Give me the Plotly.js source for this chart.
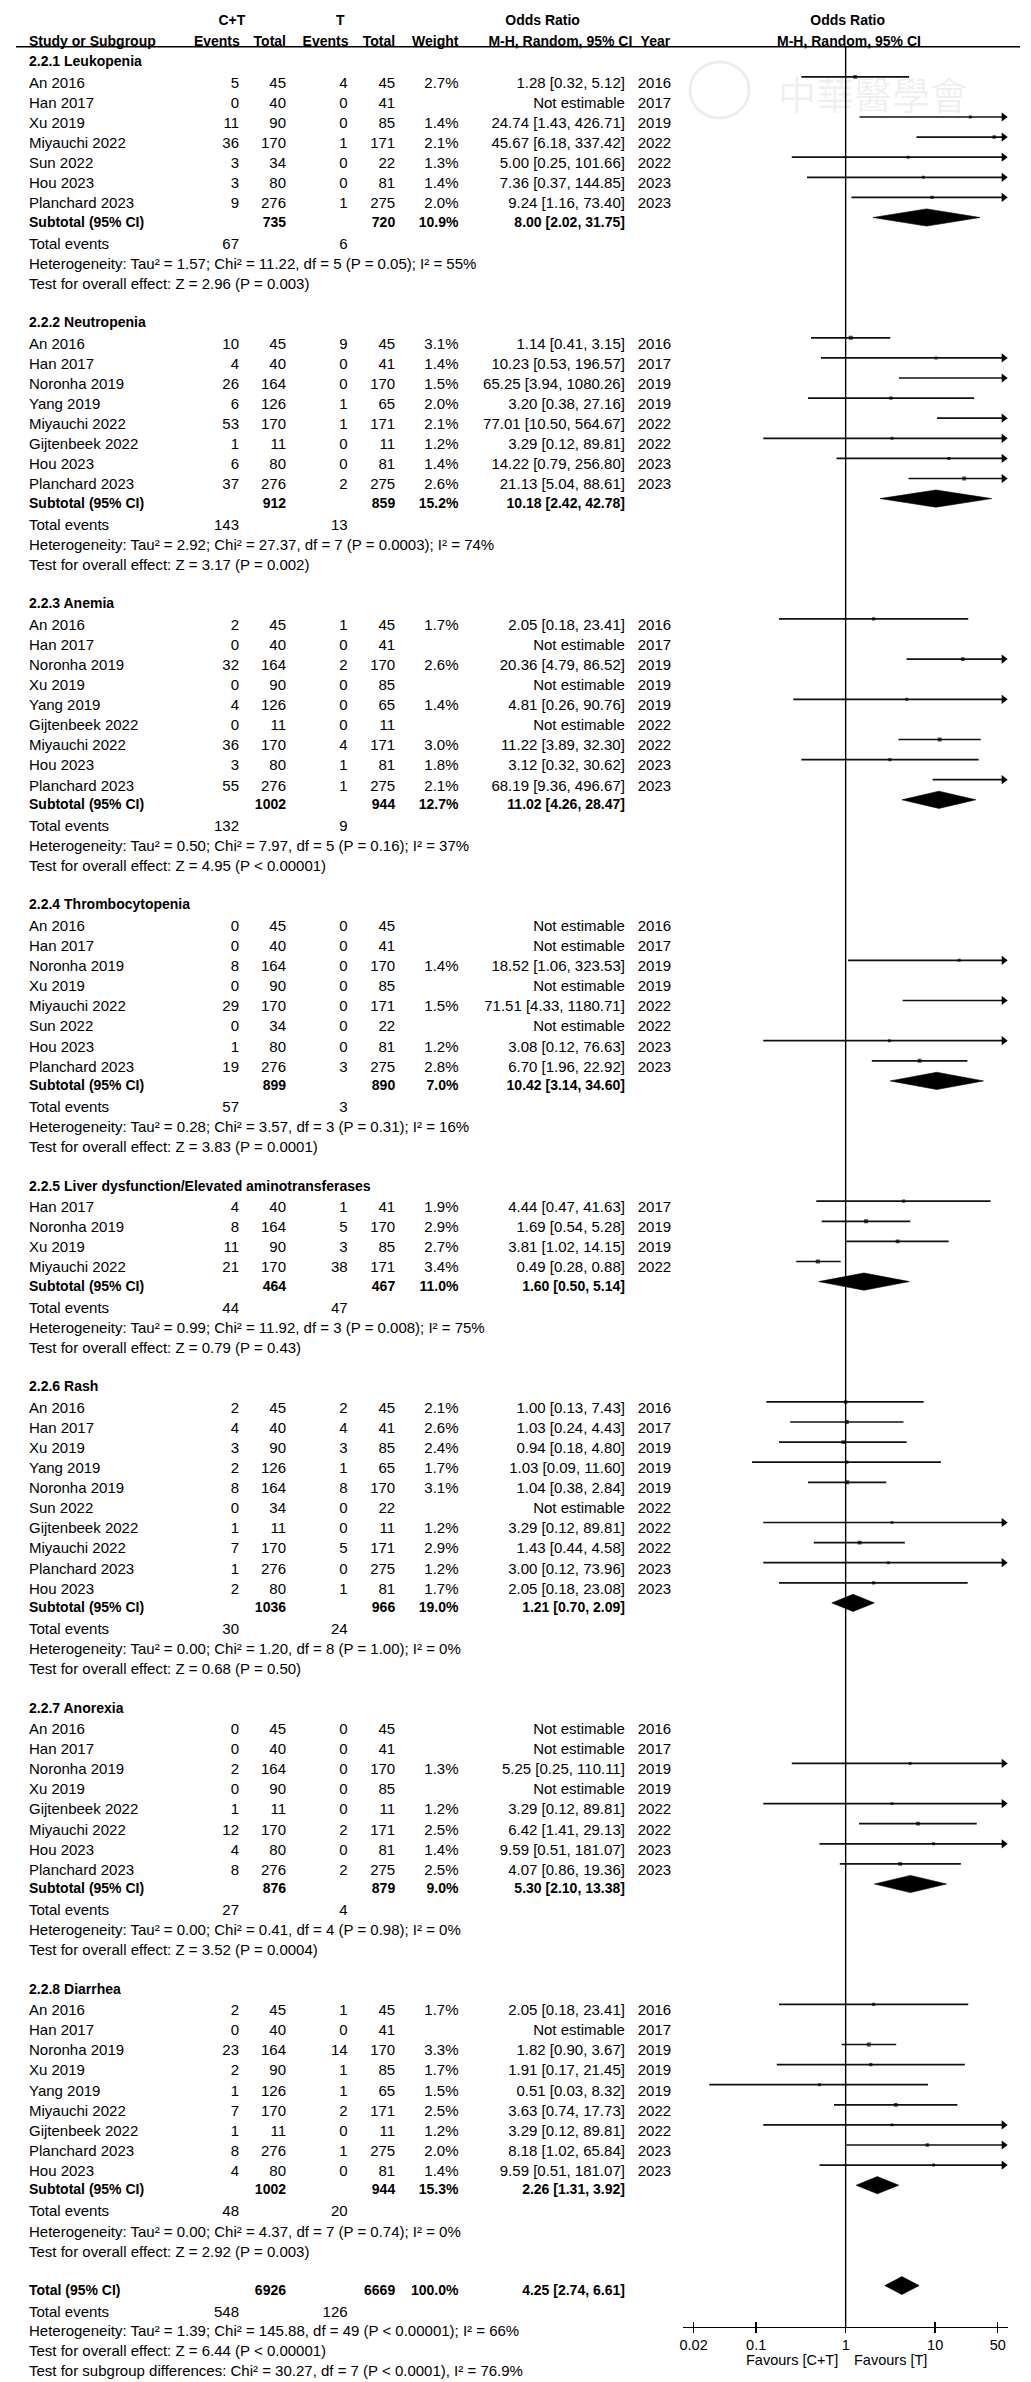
<!DOCTYPE html>
<html>
<head>
<meta charset="utf-8">
<script src="https://cdn.plot.ly/plotly-3.0.1.min.js"></script>
<style>html,body{margin:0;padding:0;background:#fff;}#chart{width:1031px;height:2382px;}</style>
</head>
<body>
<div id="chart"></div>
<script>
// ================= DATA =================
const subgroupTitles = ["2.2.1 Leukopenia","2.2.2 Neutropenia","2.2.3 Anemia","2.2.4 Thrombocytopenia",
  "2.2.5 Liver dysfunction/Elevated aminotransferases","2.2.6 Rash","2.2.7 Anorexia","2.2.8 Diarrhea"];
const groupSizes = [7, 8, 9, 8, 4, 10, 8, 9];

const studyNames = [
  "An 2016","Han 2017","Xu 2019","Miyauchi 2022","Sun 2022","Hou 2023","Planchard 2023",
  "An 2016","Han 2017","Noronha 2019","Yang 2019","Miyauchi 2022","Gijtenbeek 2022","Hou 2023","Planchard 2023",
  "An 2016","Han 2017","Noronha 2019","Xu 2019","Yang 2019","Gijtenbeek 2022","Miyauchi 2022","Hou 2023","Planchard 2023",
  "An 2016","Han 2017","Noronha 2019","Xu 2019","Miyauchi 2022","Sun 2022","Hou 2023","Planchard 2023",
  "Han 2017","Noronha 2019","Xu 2019","Miyauchi 2022",
  "An 2016","Han 2017","Xu 2019","Yang 2019","Noronha 2019","Sun 2022","Gijtenbeek 2022","Miyauchi 2022","Planchard 2023","Hou 2023",
  "An 2016","Han 2017","Noronha 2019","Xu 2019","Gijtenbeek 2022","Miyauchi 2022","Hou 2023","Planchard 2023",
  "An 2016","Han 2017","Noronha 2019","Xu 2019","Yang 2019","Miyauchi 2022","Gijtenbeek 2022","Planchard 2023","Hou 2023"
];
const ctEvents = [
  5,0,11,36,3,3,9,
  10,4,26,6,53,1,6,37,
  2,0,32,0,4,0,36,3,55,
  0,0,8,0,29,0,1,19,
  4,8,11,21,
  2,4,3,2,8,0,1,7,1,2,
  0,0,2,0,1,12,4,8,
  2,0,23,2,1,7,1,8,4
];
const ctTotals = [
  45,40,90,170,34,80,276,
  45,40,164,126,170,11,80,276,
  45,40,164,90,126,11,170,80,276,
  45,40,164,90,170,34,80,276,
  40,164,90,170,
  45,40,90,126,164,34,11,170,276,80,
  45,40,164,90,11,170,80,276,
  45,40,164,90,126,170,11,276,80
];
const tEvents = [
  4,0,0,1,0,0,1,
  9,0,0,1,1,0,0,2,
  1,0,2,0,0,0,4,1,1,
  0,0,0,0,0,0,0,3,
  1,5,3,38,
  2,4,3,1,8,0,0,5,0,1,
  0,0,0,0,0,2,0,2,
  1,0,14,1,1,2,0,1,0
];
const tTotals = [
  45,41,85,171,22,81,275,
  45,41,170,65,171,11,81,275,
  45,41,170,85,65,11,171,81,275,
  45,41,170,85,171,22,81,275,
  41,170,85,171,
  45,41,85,65,170,22,11,171,275,81,
  45,41,170,85,11,171,81,275,
  45,41,170,85,65,171,11,275,81
];
const weights = [
  2.7,null,1.4,2.1,1.3,1.4,2.0,
  3.1,1.4,1.5,2.0,2.1,1.2,1.4,2.6,
  1.7,null,2.6,null,1.4,null,3.0,1.8,2.1,
  null,null,1.4,null,1.5,null,1.2,2.8,
  1.9,2.9,2.7,3.4,
  2.1,2.6,2.4,1.7,3.1,null,1.2,2.9,1.2,1.7,
  null,null,1.3,null,1.2,2.5,1.4,2.5,
  1.7,null,3.3,1.7,1.5,2.5,1.2,2.0,1.4
];
const orEst = [
  1.28,null,24.74,45.67,5.00,7.36,9.24,
  1.14,10.23,65.25,3.20,77.01,3.29,14.22,21.13,
  2.05,null,20.36,null,4.81,null,11.22,3.12,68.19,
  null,null,18.52,null,71.51,null,3.08,6.70,
  4.44,1.69,3.81,0.49,
  1.00,1.03,0.94,1.03,1.04,null,3.29,1.43,3.00,2.05,
  null,null,5.25,null,3.29,6.42,9.59,4.07,
  2.05,null,1.82,1.91,0.51,3.63,3.29,8.18,9.59
];
const orLow = [
  0.32,null,1.43,6.18,0.25,0.37,1.16,
  0.41,0.53,3.94,0.38,10.50,0.12,0.79,5.04,
  0.18,null,4.79,null,0.26,null,3.89,0.32,9.36,
  null,null,1.06,null,4.33,null,0.12,1.96,
  0.47,0.54,1.02,0.28,
  0.13,0.24,0.18,0.09,0.38,null,0.12,0.44,0.12,0.18,
  null,null,0.25,null,0.12,1.41,0.51,0.86,
  0.18,null,0.90,0.17,0.03,0.74,0.12,1.02,0.51
];
const orHigh = [
  5.12,null,426.71,337.42,101.66,144.85,73.40,
  3.15,196.57,1080.26,27.16,564.67,89.81,256.80,88.61,
  23.41,null,86.52,null,90.76,null,32.30,30.62,496.67,
  null,null,323.53,null,1180.71,null,76.63,22.92,
  41.63,5.28,14.15,0.88,
  7.43,4.43,4.80,11.60,2.84,null,89.81,4.58,73.96,23.08,
  null,null,110.11,null,89.81,29.13,181.07,19.36,
  23.41,null,3.67,21.45,8.32,17.73,89.81,65.84,181.07
];
const studyYears = [
  2016,2017,2019,2022,2022,2023,2023,
  2016,2017,2019,2019,2022,2022,2023,2023,
  2016,2017,2019,2019,2019,2022,2022,2023,2023,
  2016,2017,2019,2019,2022,2022,2023,2023,
  2017,2019,2019,2022,
  2016,2017,2019,2019,2019,2022,2022,2022,2023,2023,
  2016,2017,2019,2019,2022,2022,2023,2023,
  2016,2017,2019,2019,2019,2022,2022,2023,2023
];

const subCtTotals = [735, 912, 1002, 899, 464, 1036, 876, 1002];
const subTTotals  = [720, 859, 944, 890, 467, 966, 879, 944];
const subWeights  = [10.9, 15.2, 12.7, 7.0, 11.0, 19.0, 9.0, 15.3];
const subOr       = [8.00, 10.18, 11.02, 10.42, 1.60, 1.21, 5.30, 2.26];
const subLow      = [2.02, 2.42, 4.26, 3.14, 0.50, 0.70, 2.10, 1.31];
const subHigh     = [31.75, 42.78, 28.47, 34.60, 5.14, 2.09, 13.38, 3.92];
const subCtEvents = [67, 143, 132, 57, 44, 30, 27, 48];
const subTEvents  = [6, 13, 9, 3, 47, 24, 4, 20];
const subHeterogeneity = [
  "Heterogeneity: Tau² = 1.57; Chi² = 11.22, df = 5 (P = 0.05); I² = 55%",
  "Heterogeneity: Tau² = 2.92; Chi² = 27.37, df = 7 (P = 0.0003); I² = 74%",
  "Heterogeneity: Tau² = 0.50; Chi² = 7.97, df = 5 (P = 0.16); I² = 37%",
  "Heterogeneity: Tau² = 0.28; Chi² = 3.57, df = 3 (P = 0.31); I² = 16%",
  "Heterogeneity: Tau² = 0.99; Chi² = 11.92, df = 3 (P = 0.008); I² = 75%",
  "Heterogeneity: Tau² = 0.00; Chi² = 1.20, df = 8 (P = 1.00); I² = 0%",
  "Heterogeneity: Tau² = 0.00; Chi² = 0.41, df = 4 (P = 0.98); I² = 0%",
  "Heterogeneity: Tau² = 0.00; Chi² = 4.37, df = 7 (P = 0.74); I² = 0%"
];
const subOverallTests = [
  "Test for overall effect: Z = 2.96 (P = 0.003)",
  "Test for overall effect: Z = 3.17 (P = 0.002)",
  "Test for overall effect: Z = 4.95 (P < 0.00001)",
  "Test for overall effect: Z = 3.83 (P = 0.0001)",
  "Test for overall effect: Z = 0.79 (P = 0.43)",
  "Test for overall effect: Z = 0.68 (P = 0.50)",
  "Test for overall effect: Z = 3.52 (P = 0.0004)",
  "Test for overall effect: Z = 2.92 (P = 0.003)"
];

const totalTotals  = [6926, 6669];
const totalEvents  = [548, 126];
const totalWeight  = [100.0];
const totalOr      = [4.25, 2.74, 6.61];
const totalNotes = [
  "Heterogeneity: Tau² = 1.39; Chi² = 145.88, df = 49 (P < 0.00001); I² = 66%",
  "Test for overall effect: Z = 6.44 (P < 0.00001)",
  "Test for subgroup differences: Chi² = 30.27, df = 7 (P < 0.0001), I² = 76.9%"
];

const axisTickVals = [0.02, 0.1, 1, 10, 50];
const axisTickText = ["0.02", "0.1", "1", "10", "50"];
const favourLabels = ["Favours [C+T]", "Favours [T]"];

// ================= LAYOUT CONSTANTS =================
const W = 1031, H = 2382;
const FONT = "Liberation Sans, Arial, Helvetica, sans-serif";
const FS = 15, FSB = 14;
const COL = { name: 29, ctE: 239, ctT: 286, tE: 347.6, tT: 395.2, w: 458.5, or: 624.9, yr: 671.1 };
const AX_L = 683, AX_R = 1007.7, AX_Y = 2326.7, HEAD_LINE_Y = 46.7;
const LOGMIN = -1.8175, LOGMAX = 1.8105;
const PXDEC = (AX_R - AX_L) / (LOGMAX - LOGMIN);
const ARROW_OFF = 4 / PXDEC;
const xMin = Math.pow(10, LOGMIN), xMax = Math.pow(10, LOGMAX);
const PITCH = 20.1;
const LINE_OFF = 5.5, DIA_OFF = 4, DIA_H = 8.6;

const fmt2 = v => v.toFixed(2);
const fmtOR = (e, l, h) => fmt2(e) + " [" + fmt2(l) + ", " + fmt2(h) + "]";

// text items
const items = [];
function T(x, y, t, a, b) { items.push({ x: x, y: y + 1.6, t: String(t), a: a, b: !!b }); }

// forest marks
const ciX = [], ciY = [], sqX = [], sqY = [], sqS = [], arRX = [], arRY = [], arLX = [], arLY = [];
const diamonds = [];
function addCI(est, lo, hi, w, yy) {
  let a = lo, b = hi;
  if (lo < xMin) { a = Math.pow(10, LOGMIN + ARROW_OFF); arLX.push(a); arLY.push(yy); }
  if (hi > xMax) { b = Math.pow(10, LOGMAX - ARROW_OFF); arRX.push(b); arRY.push(yy); }
  ciX.push(a, b, null); ciY.push(yy, yy, null);
  sqX.push(est); sqY.push(yy); sqS.push(2.2 + w * 0.6);
}
function addDiamond(est, lo, hi, yc, hh) {
  diamonds.push({ x: [lo, est, hi, est, lo], y: [yc, yc - hh, yc, yc + hh, yc] });
}

// headers
T(231.9, 20, "C+T", "c", true);
T(340.2, 20, "T", "c", true);
T(542.6, 20, "Odds Ratio", "c", true);
T(847.7, 20, "Odds Ratio", "c", true);
T(COL.name, 40.7, "Study or Subgroup", "l", true);
T(239.8, 40.7, "Events", "r", true);
T(286, 40.7, "Total", "r", true);
T(348.5, 40.7, "Events", "r", true);
T(395.2, 40.7, "Total", "r", true);
T(458.5, 40.7, "Weight", "r", true);
T(632.3, 40.7, "M-H, Random, 95% CI", "r", true);
T(670.2, 40.7, "Year", "r", true);
T(849, 40.7, "M-H, Random, 95% CI", "c", true);

// body
let y = 61, k = 0;
for (let g = 0; g < subgroupTitles.length; g++) {
  T(COL.name, y, subgroupTitles[g], "l", true);
  let sy = y;
  for (let i = 0; i < groupSizes[g]; i++, k++) {
    sy = y + 21.3 + PITCH * i;
    T(COL.name, sy, studyNames[k], "l");
    T(COL.ctE, sy, ctEvents[k], "r");
    T(COL.ctT, sy, ctTotals[k], "r");
    T(COL.tE, sy, tEvents[k], "r");
    T(COL.tT, sy, tTotals[k], "r");
    if (weights[k] !== null) T(COL.w, sy, weights[k].toFixed(1) + "%", "r");
    if (orEst[k] === null) T(COL.or, sy, "Not estimable", "r");
    else {
      T(COL.or, sy, fmtOR(orEst[k], orLow[k], orHigh[k]), "r");
      addCI(orEst[k], orLow[k], orHigh[k], weights[k], sy - LINE_OFF);
    }
    T(COL.yr, sy, studyYears[k], "r");
  }
  const st = sy + 18.6;
  T(COL.name, st, "Subtotal (95% CI)", "l", true);
  T(COL.ctT, st, subCtTotals[g], "r", true);
  T(COL.tT, st, subTTotals[g], "r", true);
  T(COL.w, st, subWeights[g].toFixed(1) + "%", "r", true);
  T(COL.or, st, fmtOR(subOr[g], subLow[g], subHigh[g]), "r", true);
  addDiamond(subOr[g], subLow[g], subHigh[g], st - DIA_OFF, DIA_H);
  const te = st + 21.7;
  T(COL.name, te, "Total events", "l");
  T(COL.ctE, te, subCtEvents[g], "r");
  T(COL.tE, te, subTEvents[g], "r");
  const he = te + 20.4;
  T(COL.name, he, subHeterogeneity[g], "l");
  const ts = he + 20;
  T(COL.name, ts, subOverallTests[g], "l");
  y = ts + 38.4;
}
// overall total
const ty = y - 0.1;
T(COL.name, ty, "Total (95% CI)", "l", true);
T(COL.ctT, ty, totalTotals[0], "r", true);
T(COL.tT, ty, totalTotals[1], "r", true);
T(COL.w, ty, totalWeight[0].toFixed(1) + "%", "r", true);
T(COL.or, ty, fmtOR(totalOr[0], totalOr[1], totalOr[2]), "r", true);
addDiamond(totalOr[0], totalOr[1], totalOr[2], ty - DIA_OFF, 9);
const tev = ty + 21.7;
T(COL.name, tev, "Total events", "l");
T(COL.ctE, tev, totalEvents[0], "r");
T(COL.tE, tev, totalEvents[1], "r");
T(COL.name, tev + 19.6, totalNotes[0], "l");
T(COL.name, tev + 39.2, totalNotes[1], "l");
T(COL.name, tev + 59.2, totalNotes[2], "l");

// ================= TRACES =================
const traces = [];
const POS = { l: "middle right", r: "middle left", c: "middle center" };
["l", "r", "c"].forEach(a => {
  [false, true].forEach(b => {
    const sel = items.filter(it => it.a === a && it.b === b);
    if (!sel.length) return;
    traces.push({
      type: "scatter", mode: "text", xaxis: "x3", yaxis: "y",
      x: sel.map(s => s.x), y: sel.map(s => s.y), text: sel.map(s => s.t),
      textposition: POS[a],
      textfont: { family: FONT, size: b ? FSB : FS, color: "#000", weight: b ? 700 : 400 },
      hoverinfo: "skip", showlegend: false, cliponaxis: false
    });
  });
});

// vertical line of no effect
traces.push({ type: "scatter", mode: "lines", xaxis: "x", yaxis: "y",
  x: [1, 1], y: [HEAD_LINE_Y, AX_Y], line: { color: "#000", width: 1.4 },
  hoverinfo: "skip", showlegend: false });
// CI lines
traces.push({ type: "scatter", mode: "lines", xaxis: "x", yaxis: "y",
  x: ciX, y: ciY, connectgaps: false, line: { color: "#111", width: 1.7 },
  hoverinfo: "skip", showlegend: false });
// squares
traces.push({ type: "scatter", mode: "markers", xaxis: "x", yaxis: "y",
  x: sqX, y: sqY, marker: { symbol: "square", size: sqS, color: "#000", line: { width: 0 } },
  hoverinfo: "skip", showlegend: false });
// arrows
if (arRX.length) traces.push({ type: "scatter", mode: "markers", xaxis: "x", yaxis: "y",
  x: arRX, y: arRY, cliponaxis: false,
  marker: { symbol: "triangle-right", size: 8, color: "#000", line: { width: 0 } },
  hoverinfo: "skip", showlegend: false });
if (arLX.length) traces.push({ type: "scatter", mode: "markers", xaxis: "x", yaxis: "y",
  x: arLX, y: arLY, cliponaxis: false,
  marker: { symbol: "triangle-left", size: 8, color: "#000", line: { width: 0 } },
  hoverinfo: "skip", showlegend: false });
// diamonds
diamonds.forEach(d => traces.push({ type: "scatter", mode: "lines", xaxis: "x", yaxis: "y",
  x: d.x, y: d.y, fill: "toself", fillcolor: "#000", line: { color: "#000", width: 0.6 },
  hoverinfo: "skip", showlegend: false }));
// dummy for overlay tick axis
traces.push({ type: "scatter", mode: "markers", xaxis: "x2", yaxis: "y",
  x: [1], y: [-50], marker: { opacity: 0 }, hoverinfo: "skip", showlegend: false });

const axPos = 1 - AX_Y / H;
const dom = [AX_L / W, AX_R / W];
const layout = {
  width: W, height: H, margin: { l: 0, r: 0, t: 0, b: 0 },
  paper_bgcolor: "#fff", plot_bgcolor: "rgba(0,0,0,0)", showlegend: false,
  font: { family: FONT, color: "#000" },
  xaxis: { type: "log", domain: dom, range: [LOGMIN, LOGMAX], anchor: "free", position: axPos,
    tickmode: "array", tickvals: axisTickVals, ticktext: axisTickText,
    ticks: "outside", ticklen: 4.5, tickwidth: 1.4, tickcolor: "#000",
    showline: true, linewidth: 1.4, linecolor: "#000", showgrid: false, zeroline: false,
    tickfont: { family: FONT, size: 14.5, color: "#000" } },
  xaxis2: { type: "log", overlaying: "x", domain: dom, range: [LOGMIN, LOGMAX], anchor: "free", position: axPos,
    tickmode: "array", tickvals: axisTickVals, ticks: "inside", ticklen: 4.5, tickwidth: 1.4, tickcolor: "#000",
    showticklabels: false, showline: false, showgrid: false, zeroline: false },
  xaxis3: { domain: [0, 1], range: [0, W], visible: false, anchor: "y" },
  yaxis: { domain: [0, 1], range: [H, 0], visible: false },
  shapes: [
    { type: "line", xref: "x3", yref: "y", x0: 16, x1: 1020, y0: HEAD_LINE_Y, y1: HEAD_LINE_Y,
      line: { color: "#000", width: 1.4 } },
    { type: "circle", xref: "x3", yref: "y", x0: 690, x1: 749, y0: 62, y1: 118,
      line: { color: "rgba(0,0,0,0.07)", width: 3 } }
  ],
  annotations: [
    { xref: "x", yref: "y", x: 0, y: 2360, text: favourLabels[0], showarrow: false,
      xanchor: "right", xshift: -6, font: { family: FONT, size: 14.5, color: "#000" } },
    { xref: "x", yref: "y", x: 0, y: 2360, text: favourLabels[1], showarrow: false,
      xanchor: "left", xshift: 6, font: { family: FONT, size: 14.5, color: "#000" } },
    { xref: "x3", yref: "y", x: 873, y: 92, text: "中華醫學會", showarrow: false,
      font: { family: "Noto Sans CJK TC", size: 38, color: "rgba(0,0,0,0.07)" } }
  ]
};

Plotly.newPlot("chart", traces, layout, { staticPlot: true, displayModeBar: false });
</script>
</body>
</html>
